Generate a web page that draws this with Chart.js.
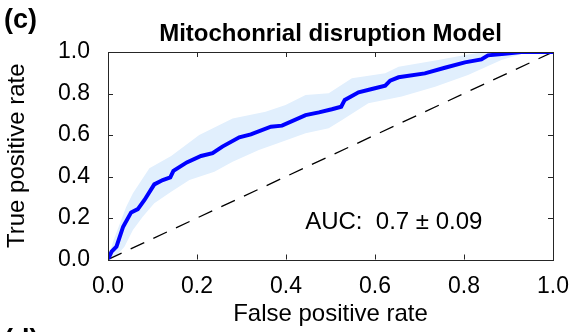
<!DOCTYPE html>
<html>
<head>
<meta charset="utf-8">
<script src="https://cdn.jsdelivr.net/npm/chart.js@4"></script>
<style>
  html, body { margin: 0; padding: 0; background: #fff; }
  canvas { display: block; }
</style>
</head>
<body>
<canvas id="roc-chart" width="574" height="332" style="width:574px;height:332px"></canvas>
<script>
// ROC curve – mitochondrial disruption model, mean curve with spread band

// mean ROC curve
const rocX = [0, 0.008, 0.019, 0.034, 0.052, 0.067, 0.082, 0.104, 0.123, 0.140, 0.147, 0.177,
  0.209, 0.235, 0.257, 0.295, 0.321, 0.366, 0.391, 0.444, 0.474, 0.503, 0.524, 0.532, 0.563,
  0.593, 0.623, 0.634, 0.653, 0.712, 0.757, 0.802, 0.839, 0.854, 0.891, 0.929, 1.0];
const rocY = [0, 0.038, 0.062, 0.158, 0.227, 0.243, 0.287, 0.362, 0.383, 0.396, 0.427, 0.468,
  0.499, 0.512, 0.544, 0.589, 0.603, 0.640, 0.645, 0.696, 0.709, 0.724, 0.736, 0.769, 0.806,
  0.822, 0.838, 0.862, 0.878, 0.897, 0.924, 0.950, 0.964, 0.984, 0.992, 1.0, 1.0];

// upper / lower edge of the shaded spread
const upperX = [0, 0.012, 0.041, 0.056, 0.093, 0.142, 0.205, 0.280, 0.354, 0.399, 0.444, 0.496,
  0.548, 0.623, 0.653, 0.742, 0.802, 0.847, 1.0];
const upperY = [0, 0.09, 0.254, 0.319, 0.44, 0.499, 0.60, 0.68, 0.712, 0.745, 0.793, 0.801,
  0.873, 0.897, 0.929, 0.961, 0.986, 1.0, 1.0];
const lowerX = [0, 0.02, 0.037, 0.056, 0.078, 0.104, 0.142, 0.183, 0.239, 0.280, 0.339, 0.391,
  0.444, 0.496, 0.526, 0.585, 0.660, 0.735, 0.809, 0.884, 0.929, 1.0];
const lowerY = [0, 0.02, 0.062, 0.142, 0.206, 0.271, 0.327, 0.383, 0.423, 0.471, 0.528, 0.568,
  0.608, 0.632, 0.672, 0.753, 0.785, 0.833, 0.889, 0.961, 0.99, 1.0];

// chance line
const chanceX = [0, 1];
const chanceY = [0, 1];

const tickValues = [0, 0.2, 0.4, 0.6, 0.8, 1.0];
const aucText = "AUC:  0.7 \u00b1 0.09";

const FONT = "'Liberation Sans', Arial, Helvetica, sans-serif";

function pts(xs, ys) {
  return xs.map((x, i) => ({ x: x, y: ys[i] }));
}

// box frame, inward ticks and loose text
const framePlugin = {
  id: "frame",
  afterDraw(chart) {
    const { ctx, chartArea: a, scales } = chart;
    const sx = scales.x, sy = scales.y;
    ctx.save();
    ctx.strokeStyle = "#262626";
    ctx.lineWidth = 1;
    ctx.strokeRect(Math.round(a.left) + 0.5, Math.round(a.top) + 0.5,
      Math.round(a.right - a.left), Math.round(a.bottom - a.top));
    const tl = 5;
    ctx.beginPath();
    tickValues.forEach(v => {
      const px = Math.round(sx.getPixelForValue(v)) + 0.5;
      ctx.moveTo(px, a.bottom); ctx.lineTo(px, a.bottom - tl);
      ctx.moveTo(px, a.top); ctx.lineTo(px, a.top + tl);
      const py = Math.round(sy.getPixelForValue(v)) + 0.5;
      ctx.moveTo(a.left, py); ctx.lineTo(a.left + tl, py);
      ctx.moveTo(a.right, py); ctx.lineTo(a.right - tl, py);
    });
    ctx.stroke();

    ctx.fillStyle = "#000";
    ctx.textBaseline = "middle";
    ctx.textAlign = "center";
    ctx.font = "bold 24px " + FONT;
    ctx.fillText("Mitochonrial disruption Model", (a.left + a.right) / 2, 34);

    ctx.textAlign = "left";
    ctx.font = "bold 27px " + FONT;
    ctx.fillText("(c)", 4, 21);
    ctx.fillText("(d)", 4, 341);

    ctx.font = "24px " + FONT;
    ctx.fillText(aucText, sx.getPixelForValue(0.443), sy.getPixelForValue(0.18));
    ctx.restore();
  }
};

const axisCommon = {
  type: "linear",
  min: 0,
  max: 1,
  grid: { display: false },
  border: { display: false },
  ticks: {
    stepSize: 0.2,
    color: "#000",
    font: { family: FONT, size: 23 },
    callback: v => v.toFixed(1)
  }
};

new Chart(document.getElementById("roc-chart"), {
  type: "line",
  data: {
    datasets: [
      {
        data: pts(rocX, rocY),
        borderColor: "#0000ff",
        borderWidth: 4,
        pointRadius: 0,
        tension: 0,
        fill: false,
        order: 0
      },
      {
        data: pts(chanceX, chanceY),
        borderColor: "#000",
        borderWidth: 1.3,
        borderDash: [15, 10],
        pointRadius: 0,
        fill: false,
        order: 1
      },
      {
        data: pts(upperX, upperY),
        borderWidth: 0,
        borderColor: "rgba(0,0,0,0)",
        backgroundColor: "#e1effd",
        pointRadius: 0,
        tension: 0,
        fill: "+1",
        order: 2
      },
      {
        data: pts(lowerX, lowerY),
        borderWidth: 0,
        borderColor: "rgba(0,0,0,0)",
        pointRadius: 0,
        tension: 0,
        fill: false,
        order: 3
      }
    ]
  },
  options: {
    responsive: false,
    animation: false,
    devicePixelRatio: 1,
    layout: { padding: { top: 52, right: 19, left: 0, bottom: 0 } },
    plugins: {
      legend: { display: false },
      tooltip: { enabled: false },
      filler: { propagate: false }
    },
    scales: {
      x: {
        ...axisCommon,
        position: "bottom",
        ticks: { ...axisCommon.ticks, padding: 5, maxRotation: 0 },
        title: {
          display: true,
          text: "False positive rate",
          color: "#000",
          font: { family: FONT, size: 24 },
          padding: { top: 0, bottom: 3 }
        },
        afterFit: s => { s.height = 72.5; }
      },
      y: {
        ...axisCommon,
        position: "left",
        ticks: { ...axisCommon.ticks, padding: 10 },
        title: {
          display: true,
          text: "True positive rate",
          color: "#000",
          font: { family: FONT, size: 24 },
          padding: { top: 3, bottom: 0 }
        },
        afterFit: s => { s.width = 108; }
      }
    }
  },
  plugins: [framePlugin]
});
</script>
</body>
</html>
